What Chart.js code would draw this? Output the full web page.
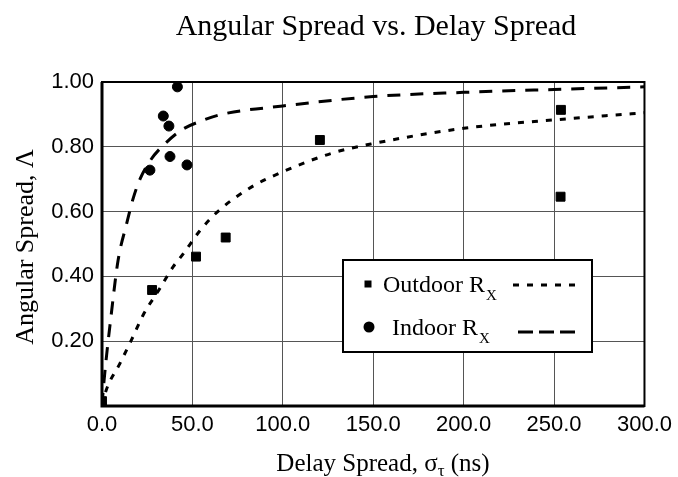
<!DOCTYPE html>
<html>
<head>
<meta charset="utf-8">
<script src="https://cdn.jsdelivr.net/npm/chart.js@4/dist/chart.umd.min.js"></script>
<style>
  html, body { margin: 0; padding: 0; background: #fff; }
  #wrap { width: 678px; height: 477px; }
</style>
</head>
<body>
<div id="wrap"><canvas id="spreadChart" width="678" height="477"></canvas></div>
<script>
// measured points (delay spread in ns, angular spread)
var outdoorX = [27.7, 52, 68.4, 120.5, 253.8, 253.6, 0];
var outdoorY = [0.358, 0.461, 0.52, 0.821, 0.914, 0.646, 0.015];
var indoorX = [26.5, 33.9, 37, 41.7, 37.6, 47];
var indoorY = [0.728, 0.895, 0.864, 0.985, 0.77, 0.744];

// fitted curves
var outdoorFitX = [0, 2.4, 9.8, 16.3, 22.7, 32, 39.4, 45, 54, 64, 83, 100, 127, 150, 200, 250, 300];
var outdoorFitY = [0, 0.05, 0.13, 0.204, 0.28, 0.363, 0.43, 0.47, 0.54, 0.6, 0.677, 0.723, 0.78, 0.81, 0.857, 0.883, 0.905];
var indoorFitX = [0, 1, 5.2, 8.9, 13.5, 17.2, 21, 27, 34, 44, 56, 66, 100, 150, 200, 250, 300];
var indoorFitY = [0, 0.07, 0.287, 0.45, 0.56, 0.64, 0.7, 0.76, 0.805, 0.852, 0.882, 0.9, 0.926, 0.955, 0.968, 0.977, 0.985];

var xTicks = [0, 50, 100, 150, 200, 250, 300];
var yTicks = [0.2, 0.4, 0.6, 0.8, 1.0];

function pairs(xs, ys) {
	return xs.map(function(x, i) { return {x: x, y: ys[i]}; });
}

var serif = '"Liberation Serif", "Times New Roman", serif';
var sans = '"Liberation Sans", Arial, sans-serif';

// draws text with a subscript part, starting at x
function drawSub(ctx, main, sub, x, y, size, subSize, subDrop) {
	ctx.font = size + 'px ' + serif;
	ctx.fillText(main, x, y);
	var w = ctx.measureText(main).width;
	ctx.font = subSize + 'px ' + serif;
	ctx.fillText(sub, x + w + 1, y + subDrop);
	return w + ctx.measureText(sub).width;
}

var decor = {
	id: 'decor',
	beforeDatasetsDraw: function(chart) {
		var ctx = chart.ctx, a = chart.chartArea;
		ctx.save();
		ctx.strokeStyle = '#000';
		ctx.lineWidth = 2;
		ctx.strokeRect(a.left, a.top, a.right - a.left, a.bottom - a.top);
		ctx.lineWidth = 3;
		ctx.beginPath();
		ctx.moveTo(a.left, a.top);
		ctx.lineTo(a.left, a.bottom);
		ctx.lineTo(a.right, a.bottom);
		ctx.stroke();
		ctx.restore();
	},
	afterDraw: function(chart) {
		var ctx = chart.ctx;
		ctx.save();
		ctx.fillStyle = '#000';
		ctx.textBaseline = 'alphabetic';

		// title
		ctx.font = '30px ' + serif;
		ctx.textAlign = 'center';
		ctx.fillText('Angular Spread vs. Delay Spread', 376, 35);

		// y title
		ctx.save();
		ctx.translate(33, 247);
		ctx.rotate(-Math.PI / 2);
		ctx.font = '26px ' + serif;
		ctx.fillText('Angular Spread, \u039B', 0, 0);
		ctx.restore();

		// x title: Delay Spread, σ_τ (ns)
		ctx.textAlign = 'left';
		ctx.font = '25px ' + serif;
		var p1 = 'Delay Spread, \u03C3', p2 = ' (ns)';
		var w1 = ctx.measureText(p1).width, w3 = ctx.measureText(p2).width;
		ctx.font = '17px ' + serif;
		var w2 = ctx.measureText('\u03C4').width;
		var sx = 383 - (w1 + w2 + w3) / 2;
		ctx.font = '25px ' + serif;
		ctx.fillText(p1, sx, 471);
		ctx.font = '17px ' + serif;
		ctx.fillText('\u03C4', sx + w1, 476);
		ctx.font = '25px ' + serif;
		ctx.fillText(p2, sx + w1 + w2, 471);

		// legend box
		ctx.fillStyle = '#fff';
		ctx.fillRect(343, 260, 249, 92);
		ctx.strokeStyle = '#000';
		ctx.lineWidth = 2;
		ctx.strokeRect(343, 260, 249, 92);
		ctx.fillStyle = '#000';
		ctx.fillRect(364.5, 280.5, 7, 7);
		ctx.beginPath();
		ctx.arc(369, 327, 5.5, 0, Math.PI * 2);
		ctx.fill();
		drawSub(ctx, 'Outdoor R', 'X', 383, 292, 24, 15, 8);
		drawSub(ctx, 'Indoor R', 'X', 392, 335, 24, 15, 8);
		ctx.lineWidth = 3;
		ctx.setLineDash([6, 8]);
		ctx.beginPath();
		ctx.moveTo(513, 285);
		ctx.lineTo(575, 285);
		ctx.stroke();
		ctx.setLineDash([15, 6]);
		ctx.beginPath();
		ctx.moveTo(518, 332);
		ctx.lineTo(578, 332);
		ctx.stroke();
		ctx.restore();
	}
};

new Chart(document.getElementById('spreadChart').getContext('2d'), {
	type: 'scatter',
	data: {
		datasets: [
			{
				label: 'Outdoor fit',
				data: pairs(outdoorFitX, outdoorFitY),
				showLine: true,
				borderColor: '#000',
				borderWidth: 3,
				borderDash: [6, 8],
				pointRadius: 0,
				cubicInterpolationMode: 'monotone'
			},
			{
				label: 'Indoor fit',
				data: pairs(indoorFitX, indoorFitY),
				showLine: true,
				borderColor: '#000',
				borderWidth: 3,
				borderDash: [13, 10],
				pointRadius: 0,
				cubicInterpolationMode: 'monotone'
			},
			{
				label: 'Outdoor Rx',
				data: pairs(outdoorX, outdoorY),
				pointStyle: 'rect',
				pointRadius: 6.3,
				pointBackgroundColor: '#000',
				pointBorderColor: '#000',
				pointBorderWidth: 1
			},
			{
				label: 'Indoor Rx',
				data: pairs(indoorX, indoorY),
				pointStyle: 'circle',
				pointRadius: 5,
				pointBackgroundColor: '#000',
				pointBorderColor: '#000',
				pointBorderWidth: 1
			}
		]
	},
	options: {
		responsive: false,
		animation: false,
		layout: { padding: { left: 0, right: 33, top: 82, bottom: 0 } },
		plugins: {
			legend: { display: false },
			title: { display: false },
			tooltip: { enabled: false }
		},
		scales: {
			x: {
				type: 'linear',
				min: 0,
				max: 300,
				afterFit: function(s) { s.height = 71; },
				afterBuildTicks: function(s) { s.ticks = xTicks.map(function(v) { return {value: v}; }); },
				grid: { color: '#555', lineWidth: 1, drawTicks: false },
				border: { display: false },
				ticks: {
					padding: 6,
					color: '#000',
					font: { family: sans, size: 22 },
					maxRotation: 0,
					callback: function(v) { return v.toFixed(1); }
				}
			},
			y: {
				type: 'linear',
				min: 0,
				max: 1,
				afterFit: function(s) { s.width = 102; },
				afterBuildTicks: function(s) { s.ticks = [{value: 0}].concat(yTicks.map(function(v) { return {value: v}; })); },
				grid: { color: '#555', lineWidth: 1, drawTicks: false },
				border: { display: false },
				ticks: {
					padding: 8,
					color: '#000',
					font: { family: sans, size: 22 },
					callback: function(v) { return v === 0 ? '' : v.toFixed(2); }
				}
			}
		}
	},
	plugins: [decor]
});
</script>
</body>
</html>
